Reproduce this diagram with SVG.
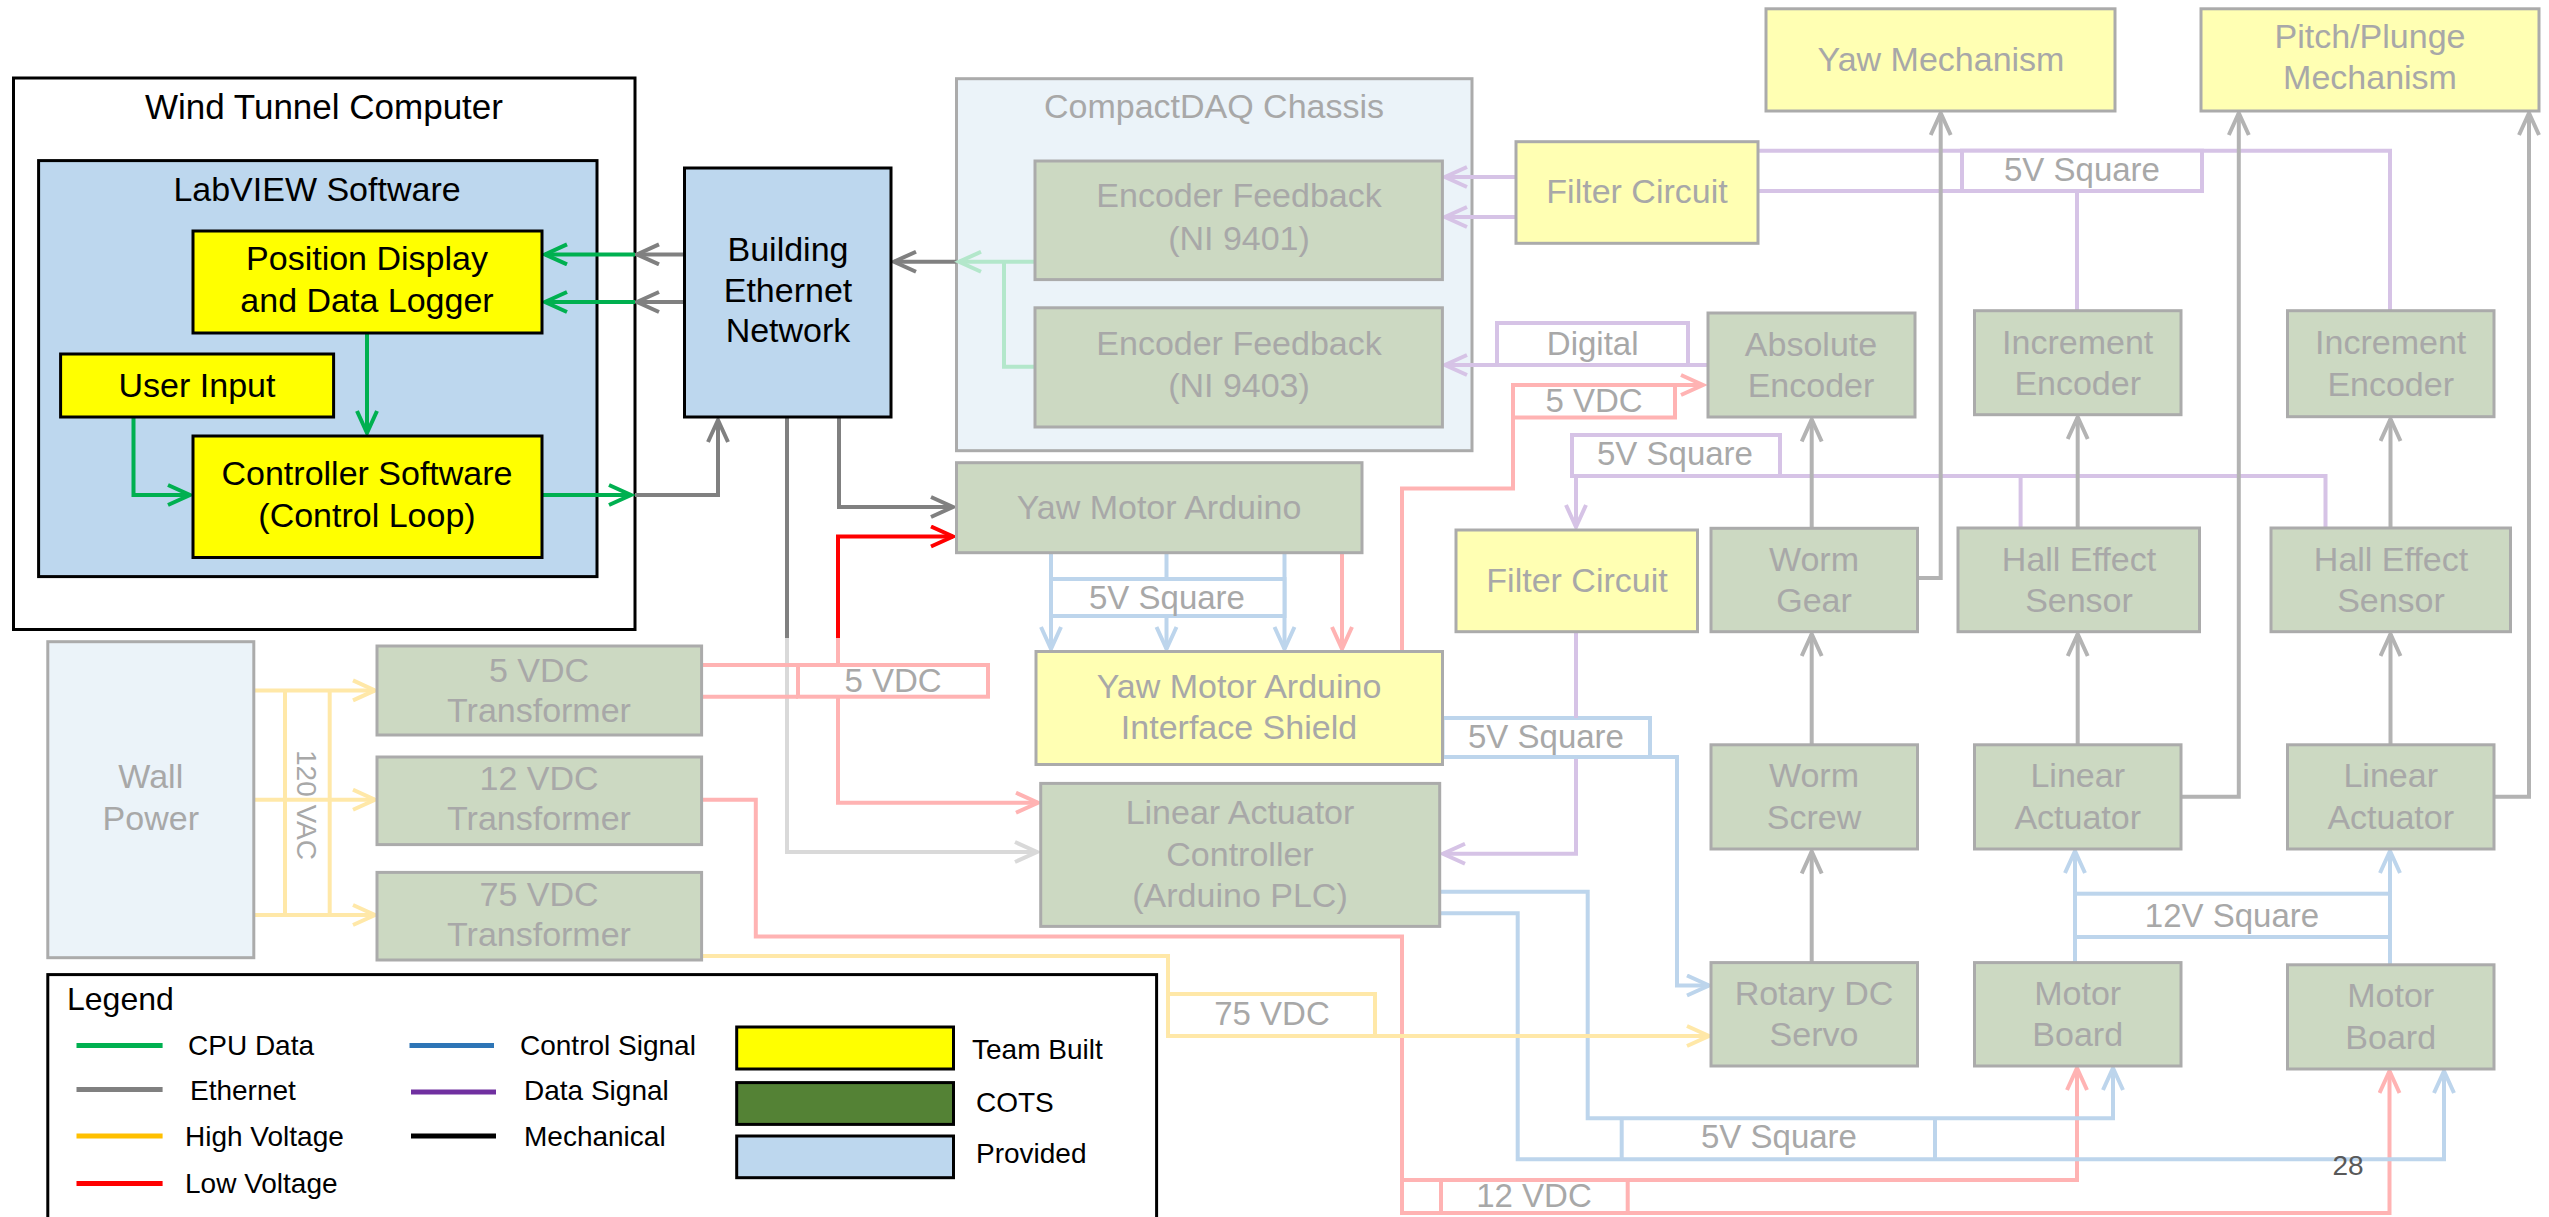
<svg xmlns="http://www.w3.org/2000/svg" width="2549" height="1217" viewBox="0 0 2549 1217">
<style>
text{font-family:"Liberation Sans",Arial,sans-serif;}
.t{font-size:34px;text-anchor:middle;fill:#000}
.ft{font-size:34px;text-anchor:middle;fill:#A8A8A8}
.lt{font-size:33px;text-anchor:middle;fill:#A8A8A8}
.gt{font-size:28px;fill:#000}
.bk{stroke:#000;stroke-width:3}
.fb{stroke:#ABABAB;stroke-width:3}
.yel{fill:#FFFF00}
.blu{fill:#BDD7EE}
.fyel{fill:#FFFFB3}
.fgrn{fill:#CCD9C2}
.fblu{fill:#EBF3F9}
.c{fill:none;stroke-width:4}
.lb{fill:#fff;stroke-width:4}
.green{stroke:#00B050}
.gray{stroke:#808080}
.red{stroke:#FF0000}
.lgreen{stroke:#B3E7CB}
.lgray{stroke:#D9D9D9}
.mech{stroke:#B3B3B3}
.fred{stroke:#FFB3B3}
.fblue{stroke:#BDD5EC}
.fpur{stroke:#D6C3E6}
.fyl{stroke:#FFE8A8}
</style>
<defs>
<marker id="aGreen" markerUnits="userSpaceOnUse" markerWidth="30" markerHeight="26" viewBox="0 0 30 26" refX="25" refY="12" orient="auto"><path d="M3,2 L25,12 L3,22" fill="none" stroke="#00B050" stroke-width="4"/></marker>
<marker id="aGray" markerUnits="userSpaceOnUse" markerWidth="30" markerHeight="26" viewBox="0 0 30 26" refX="25" refY="12" orient="auto"><path d="M3,2 L25,12 L3,22" fill="none" stroke="#808080" stroke-width="4"/></marker>
<marker id="aRed" markerUnits="userSpaceOnUse" markerWidth="30" markerHeight="26" viewBox="0 0 30 26" refX="25" refY="12" orient="auto"><path d="M3,2 L25,12 L3,22" fill="none" stroke="#FF0000" stroke-width="4"/></marker>
<marker id="aLGreen" markerUnits="userSpaceOnUse" markerWidth="30" markerHeight="26" viewBox="0 0 30 26" refX="25" refY="12" orient="auto"><path d="M3,2 L25,12 L3,22" fill="none" stroke="#B3E7CB" stroke-width="4"/></marker>
<marker id="aLGray" markerUnits="userSpaceOnUse" markerWidth="30" markerHeight="26" viewBox="0 0 30 26" refX="25" refY="12" orient="auto"><path d="M3,2 L25,12 L3,22" fill="none" stroke="#D9D9D9" stroke-width="4"/></marker>
<marker id="aMech" markerUnits="userSpaceOnUse" markerWidth="30" markerHeight="26" viewBox="0 0 30 26" refX="25" refY="12" orient="auto"><path d="M3,2 L25,12 L3,22" fill="none" stroke="#B3B3B3" stroke-width="4"/></marker>
<marker id="aFRed" markerUnits="userSpaceOnUse" markerWidth="30" markerHeight="26" viewBox="0 0 30 26" refX="25" refY="12" orient="auto"><path d="M3,2 L25,12 L3,22" fill="none" stroke="#FFB3B3" stroke-width="4"/></marker>
<marker id="aFBlue" markerUnits="userSpaceOnUse" markerWidth="30" markerHeight="26" viewBox="0 0 30 26" refX="25" refY="12" orient="auto"><path d="M3,2 L25,12 L3,22" fill="none" stroke="#BDD5EC" stroke-width="4"/></marker>
<marker id="aFPur" markerUnits="userSpaceOnUse" markerWidth="30" markerHeight="26" viewBox="0 0 30 26" refX="25" refY="12" orient="auto"><path d="M3,2 L25,12 L3,22" fill="none" stroke="#D6C3E6" stroke-width="4"/></marker>
<marker id="aFYl" markerUnits="userSpaceOnUse" markerWidth="30" markerHeight="26" viewBox="0 0 30 26" refX="25" refY="12" orient="auto"><path d="M3,2 L25,12 L3,22" fill="none" stroke="#FFE8A8" stroke-width="4"/></marker>
</defs>
<rect width="2549" height="1217" fill="#fff"/>

<!-- Containers -->
<g id="wind-tunnel-computer"><rect x="13.5" y="78" width="621.5" height="551.5" fill="#fff" class="bk"/><text class="t" x="324" y="119" style="font-size:35px">Wind Tunnel Computer</text></g>
<g id="labview-software"><rect x="38.6" y="160.6" width="558.4" height="416" class="blu bk"/><text class="t" x="317" y="201">LabVIEW Software</text></g>
<g id="compactdaq-chassis"><rect x="956.5" y="78.7" width="515.5" height="372" class="fblu fb"/><text class="ft" x="1214" y="118">CompactDAQ Chassis</text></g>

<!-- Connectors -->
<g id="connectors">
<!-- computer -->
<line x1="684.5" y1="254.4" x2="637" y2="254.4" class="c gray" marker-end="url(#aGray)"/>
<line x1="684.5" y1="302" x2="637" y2="302" class="c gray" marker-end="url(#aGray)"/>
<line x1="635" y1="254.4" x2="545" y2="254.4" class="c green" marker-end="url(#aGreen)"/>
<line x1="635" y1="302" x2="545" y2="302" class="c green" marker-end="url(#aGreen)"/>
<line x1="367" y1="333" x2="367" y2="433" class="c green" marker-end="url(#aGreen)"/>
<polyline points="133.5,417 133.5,495 190,495" class="c green" marker-end="url(#aGreen)"/>
<line x1="542" y1="495" x2="631" y2="495" class="c green" marker-end="url(#aGreen)"/>
<polyline points="635,495 718,495 718,420" class="c gray" marker-end="url(#aGray)"/>
<line x1="956.5" y1="261.7" x2="894" y2="261.7" class="c gray" marker-end="url(#aGray)"/>
<polyline points="839,417 839,507 953,507" class="c gray" marker-end="url(#aGray)"/>
<line x1="787" y1="417" x2="787" y2="638" class="c gray"/>
<polyline points="787,638 787,852 1037,852" class="c lgray" marker-end="url(#aLGray)"/>
<polyline points="838,638 838,536.5 953,536.5" class="c red" marker-end="url(#aRed)"/>
<line x1="838" y1="665" x2="838" y2="638" class="c fred"/>
<!-- CompactDAQ internals -->
<line x1="1035" y1="261.8" x2="959" y2="261.8" class="c lgreen" marker-end="url(#aLGreen)"/>
<polyline points="1035,366.7 1004,366.7 1004,261.8" class="c lgreen"/>
<line x1="1516" y1="177" x2="1445" y2="177" class="c fpur" marker-end="url(#aFPur)"/>
<line x1="1516" y1="217" x2="1445" y2="217" class="c fpur" marker-end="url(#aFPur)"/>
<line x1="1708" y1="365" x2="1445" y2="365" class="c fpur" marker-end="url(#aFPur)"/>
<!-- purple top -->
<polyline points="1758,150.7 2390,150.7 2390,310.7" class="c fpur"/>
<line x1="1758" y1="191" x2="2202" y2="191" class="c fpur"/>
<line x1="2077" y1="191" x2="2077" y2="310.7" class="c fpur"/>
<!-- purple mid -->
<polyline points="1572,476 2325.5,476 2325.5,528" class="c fpur"/>
<line x1="2020.6" y1="476" x2="2020.6" y2="528" class="c fpur"/>
<line x1="1576" y1="476" x2="1576" y2="527" class="c fpur" marker-end="url(#aFPur)"/>
<polyline points="1576,632 1576,853.8 1443,853.8" class="c fpur" marker-end="url(#aFPur)"/>
<!-- red 5 VDC to absolute encoder -->
<polyline points="1402,651 1402,488.5 1513,488.5 1513,385 1703,385" class="c fred" marker-end="url(#aFRed)"/>
<!-- YMA to shield -->
<line x1="1051" y1="552.4" x2="1051" y2="649" class="c fblue" marker-end="url(#aFBlue)"/>
<line x1="1166.5" y1="552.4" x2="1166.5" y2="649" class="c fblue" marker-end="url(#aFBlue)"/>
<line x1="1284.5" y1="552.4" x2="1284.5" y2="649" class="c fblue" marker-end="url(#aFBlue)"/>
<line x1="1342" y1="552.4" x2="1342" y2="649" class="c fred" marker-end="url(#aFRed)"/>
<!-- transformers -->
<line x1="253.8" y1="690.4" x2="375" y2="690.4" class="c fyl" marker-end="url(#aFYl)"/>
<line x1="253.8" y1="799.7" x2="375" y2="799.7" class="c fyl" marker-end="url(#aFYl)"/>
<line x1="253.8" y1="915" x2="375" y2="915" class="c fyl" marker-end="url(#aFYl)"/>
<line x1="285" y1="690.4" x2="285" y2="915" class="c fyl"/>
<line x1="329.7" y1="690.4" x2="329.7" y2="915" class="c fyl"/>
<line x1="701.6" y1="665" x2="798" y2="665" class="c fred"/>
<line x1="701.6" y1="696.7" x2="798" y2="696.7" class="c fred"/>
<polyline points="838,696.7 838,802.7 1038,802.7" class="c fred" marker-end="url(#aFRed)"/>
<!-- 12 VDC -->
<polyline points="701.6,799.7 755.8,799.7 755.8,936.5 1402,936.5 1402,1213 2389.5,1213 2389.5,1071" class="c fred" marker-end="url(#aFRed)"/>
<polyline points="1402,1180 2077,1180 2077,1068" class="c fred" marker-end="url(#aFRed)"/>
<!-- blue to rotary / motor boards -->
<polyline points="1442.5,757 1677,757 1677,985.5 1709,985.5" class="c fblue" marker-end="url(#aFBlue)"/>
<polyline points="1440,891.7 1587.7,891.7 1587.7,1118.3 2113,1118.3 2113,1068" class="c fblue" marker-end="url(#aFBlue)"/>
<polyline points="1440,913.3 1517.7,913.3 1517.7,1159.3 2444,1159.3 2444,1071" class="c fblue" marker-end="url(#aFBlue)"/>
<line x1="1621.7" y1="1118.3" x2="1621.7" y2="1159.3" class="c fblue"/>
<line x1="1935" y1="1118.3" x2="1935" y2="1159.3" class="c fblue"/>
<line x1="2075" y1="962.6" x2="2075" y2="851" class="c fblue" marker-end="url(#aFBlue)"/>
<line x1="2390" y1="964.8" x2="2390" y2="851" class="c fblue" marker-end="url(#aFBlue)"/>
<!-- 75 VDC -->
<polyline points="701.6,956 1168,956 1168,1036 1709,1036" class="c fyl" marker-end="url(#aFYl)"/>
<!-- mechanical -->
<polyline points="1917.7,578 1940.7,578 1940.7,113" class="c mech" marker-end="url(#aMech)"/>
<polyline points="2181,796.7 2238.8,796.7 2238.8,113" class="c mech" marker-end="url(#aMech)"/>
<polyline points="2494,796.7 2529,796.7 2529,113" class="c mech" marker-end="url(#aMech)"/>
<line x1="1811.7" y1="528.3" x2="1811.7" y2="419.5" class="c mech" marker-end="url(#aMech)"/>
<line x1="2077.7" y1="528" x2="2077.7" y2="417" class="c mech" marker-end="url(#aMech)"/>
<line x1="2390.5" y1="528" x2="2390.5" y2="419" class="c mech" marker-end="url(#aMech)"/>
<line x1="1811.7" y1="744.8" x2="1811.7" y2="634" class="c mech" marker-end="url(#aMech)"/>
<line x1="1811.7" y1="962.6" x2="1811.7" y2="851.5" class="c mech" marker-end="url(#aMech)"/>
<line x1="2077.7" y1="744.8" x2="2077.7" y2="634" class="c mech" marker-end="url(#aMech)"/>
<line x1="2390.5" y1="744.8" x2="2390.5" y2="634" class="c mech" marker-end="url(#aMech)"/>
<!-- label frames -->
<rect x="1497" y="323" width="191" height="42" class="lb fpur"/>
<rect x="1513" y="385" width="162" height="32.5" class="lb fred"/>
<rect x="1572" y="435" width="208" height="41" class="lb fpur"/>
<rect x="1962" y="150.7" width="240" height="40.3" class="lb fpur"/>
<rect x="1051" y="579" width="233.5" height="37" class="lb fblue"/>
<rect x="798" y="665" width="190" height="31.7" class="lb fred"/>
<rect x="1442.5" y="718" width="207.5" height="39" class="lb fblue"/>
<rect x="1168" y="994" width="207" height="42" class="lb fyl"/>
<rect x="2075" y="893.7" width="315" height="43.3" class="lb fblue"/>
<rect x="1441" y="1180" width="186.7" height="33" class="lb fred"/>
<line x1="1576" y1="632" x2="1576" y2="718" class="c fpur"/>
<text class="lt" x="1592.7" y="355">Digital</text>
<text class="lt" x="1594" y="412">5 VDC</text>
<text class="lt" x="1675" y="465">5V Square</text>
<text class="lt" x="2082" y="181">5V Square</text>
<text class="lt" x="1167" y="609">5V Square</text>
<text class="lt" x="893" y="692">5 VDC</text>
<text class="lt" x="1546" y="748">5V Square</text>
<text class="lt" x="1272" y="1025">75 VDC</text>
<text class="lt" x="2232" y="927">12V Square</text>
<text class="lt" x="1779" y="1148">5V Square</text>
<text class="lt" x="1534" y="1207">12 VDC</text>
<text class="lt" transform="translate(307,805) rotate(90)" y="10" style="font-size:28px">120 VAC</text>
</g>

<!-- Computer nodes -->
<g id="position-display"><rect x="193" y="231" width="349" height="102" class="yel bk"/><text class="t" x="367" y="270">Position Display</text><text class="t" x="367" y="312">and Data Logger</text></g>
<g id="user-input"><rect x="60.6" y="354" width="273" height="63" class="yel bk"/><text class="t" x="197" y="397">User Input</text></g>
<g id="controller-software"><rect x="193" y="436" width="349" height="121.5" class="yel bk"/><text class="t" x="367" y="485">Controller Software</text><text class="t" x="367" y="527">(Control Loop)</text></g>
<g id="building-ethernet"><rect x="684.5" y="168" width="206.5" height="249" class="blu bk"/><text class="t" x="788" y="261">Building</text><text class="t" x="788" y="302">Ethernet</text><text class="t" x="788" y="342">Network</text></g>

<!-- Faded nodes -->
<g id="encoder-9401"><rect x="1035" y="161" width="407.4" height="118.6" class="fgrn fb"/><text class="ft" x="1239" y="207">Encoder Feedback</text><text class="ft" x="1239" y="250">(NI 9401)</text></g>
<g id="encoder-9403"><rect x="1035" y="307.8" width="407.4" height="119.2" class="fgrn fb"/><text class="ft" x="1239" y="355">Encoder Feedback</text><text class="ft" x="1239" y="397">(NI 9403)</text></g>
<g id="filter-circuit-1"><rect x="1516" y="141.7" width="242" height="101.6" class="fyel fb"/><text class="ft" x="1637" y="203">Filter Circuit</text></g>
<g id="yaw-mechanism"><rect x="1766" y="8.8" width="349" height="102.2" class="fyel fb"/><text class="ft" x="1941" y="71">Yaw Mechanism</text></g>
<g id="pitch-plunge"><rect x="2201" y="8.8" width="338" height="102.2" class="fyel fb"/><text class="ft" x="2370" y="48">Pitch/Plunge</text><text class="ft" x="2370" y="89">Mechanism</text></g>
<g id="absolute-encoder"><rect x="1708" y="313" width="207" height="104" class="fgrn fb"/><text class="ft" x="1811" y="356">Absolute</text><text class="ft" x="1811" y="397">Encoder</text></g>
<g id="increment-encoder-1"><rect x="1974.5" y="310.7" width="206.5" height="104" class="fgrn fb"/><text class="ft" x="2077.7" y="354">Increment</text><text class="ft" x="2077.7" y="395">Encoder</text></g>
<g id="increment-encoder-2"><rect x="2287.5" y="310.7" width="206.5" height="106" class="fgrn fb"/><text class="ft" x="2390.7" y="354">Increment</text><text class="ft" x="2390.7" y="396">Encoder</text></g>
<g id="yaw-motor-arduino"><rect x="956.5" y="462.7" width="405.5" height="90" class="fgrn fb"/><text class="ft" x="1159" y="519">Yaw Motor Arduino</text></g>
<g id="filter-circuit-2"><rect x="1456" y="530" width="241.5" height="101.7" class="fyel fb"/><text class="ft" x="1577" y="592">Filter Circuit</text></g>
<g id="worm-gear"><rect x="1711" y="528.3" width="206.5" height="103.4" class="fgrn fb"/><text class="ft" x="1814" y="571">Worm</text><text class="ft" x="1814" y="612">Gear</text></g>
<g id="hall-effect-1"><rect x="1958" y="528" width="241.5" height="103.7" class="fgrn fb"/><text class="ft" x="2079" y="571">Hall Effect</text><text class="ft" x="2079" y="612">Sensor</text></g>
<g id="hall-effect-2"><rect x="2271" y="528" width="239.5" height="103.7" class="fgrn fb"/><text class="ft" x="2391" y="571">Hall Effect</text><text class="ft" x="2391" y="612">Sensor</text></g>
<g id="interface-shield"><rect x="1036" y="651.5" width="406.5" height="113" class="fyel fb"/><text class="ft" x="1239" y="698">Yaw Motor Arduino</text><text class="ft" x="1239" y="739">Interface Shield</text></g>
<g id="linear-actuator-controller"><rect x="1040.7" y="783.4" width="399" height="143" class="fgrn fb"/><text class="ft" x="1240" y="824">Linear Actuator</text><text class="ft" x="1240" y="866">Controller</text><text class="ft" x="1240" y="907">(Arduino PLC)</text></g>
<g id="worm-screw"><rect x="1711" y="744.8" width="206.5" height="104.2" class="fgrn fb"/><text class="ft" x="1814" y="787">Worm</text><text class="ft" x="1814" y="829">Screw</text></g>
<g id="linear-actuator-1"><rect x="1974.5" y="744.8" width="206.5" height="104.2" class="fgrn fb"/><text class="ft" x="2077.7" y="787">Linear</text><text class="ft" x="2077.7" y="829">Actuator</text></g>
<g id="linear-actuator-2"><rect x="2287.5" y="744.8" width="206.5" height="104.2" class="fgrn fb"/><text class="ft" x="2390.7" y="787">Linear</text><text class="ft" x="2390.7" y="829">Actuator</text></g>
<g id="rotary-dc-servo"><rect x="1711" y="962.6" width="206.5" height="103.4" class="fgrn fb"/><text class="ft" x="1814" y="1005">Rotary DC</text><text class="ft" x="1814" y="1046">Servo</text></g>
<g id="motor-board-1"><rect x="1974.5" y="962.6" width="206.5" height="103.4" class="fgrn fb"/><text class="ft" x="2077.7" y="1005">Motor</text><text class="ft" x="2077.7" y="1046">Board</text></g>
<g id="motor-board-2"><rect x="2287.5" y="964.8" width="206.5" height="104.2" class="fgrn fb"/><text class="ft" x="2390.7" y="1007">Motor</text><text class="ft" x="2390.7" y="1049">Board</text></g>
<g id="wall-power"><rect x="47.8" y="641.7" width="206" height="316" class="fblu fb"/><text class="ft" x="150.8" y="788">Wall</text><text class="ft" x="150.8" y="830">Power</text></g>
<g id="transformer-5v"><rect x="377" y="646" width="324.6" height="89" class="fgrn fb"/><text class="ft" x="539" y="682">5 VDC</text><text class="ft" x="539" y="722">Transformer</text></g>
<g id="transformer-12v"><rect x="377" y="757" width="324.6" height="87.6" class="fgrn fb"/><text class="ft" x="539" y="790">12 VDC</text><text class="ft" x="539" y="830">Transformer</text></g>
<g id="transformer-75v"><rect x="377" y="872.4" width="324.6" height="87.6" class="fgrn fb"/><text class="ft" x="539" y="906">75 VDC</text><text class="ft" x="539" y="946">Transformer</text></g>

<!-- Legend -->
<g id="legend">
<rect x="47.8" y="974.6" width="1108.8" height="260" fill="#fff" class="bk"/>
<text class="gt" x="67" y="1010" style="font-size:32px">Legend</text>
<line x1="76.5" y1="1045.6" x2="162.6" y2="1045.6" stroke="#00B050" stroke-width="5"/>
<line x1="76.5" y1="1089.4" x2="162.6" y2="1089.4" stroke="#808080" stroke-width="5"/>
<line x1="76.5" y1="1135.9" x2="162.6" y2="1135.9" stroke="#FFC000" stroke-width="5"/>
<line x1="76.5" y1="1183.5" x2="162.6" y2="1183.5" stroke="#FF0000" stroke-width="5"/>
<text class="gt" x="188" y="1055">CPU Data</text>
<text class="gt" x="190" y="1100">Ethernet</text>
<text class="gt" x="185" y="1146">High Voltage</text>
<text class="gt" x="185" y="1193">Low Voltage</text>
<line x1="409.5" y1="1045.6" x2="494" y2="1045.6" stroke="#2E75B6" stroke-width="5"/>
<line x1="411" y1="1092" x2="496" y2="1092" stroke="#7030A0" stroke-width="5"/>
<line x1="411" y1="1136" x2="496" y2="1136" stroke="#000" stroke-width="5"/>
<text class="gt" x="520" y="1055">Control Signal</text>
<text class="gt" x="524" y="1100">Data Signal</text>
<text class="gt" x="524" y="1146">Mechanical</text>
<rect x="736.7" y="1027" width="216.8" height="42" class="yel bk"/>
<rect x="736.7" y="1082.6" width="216.8" height="41.8" fill="#548235" class="bk"/>
<rect x="736.7" y="1136" width="216.8" height="41.7" class="blu bk"/>
<text class="gt" x="972" y="1059">Team Built</text>
<text class="gt" x="976" y="1112">COTS</text>
<text class="gt" x="976" y="1163">Provided</text>
</g>
<text x="2348" y="1175" style="font-size:28px;text-anchor:middle;fill:#595959">28</text>
</svg>
